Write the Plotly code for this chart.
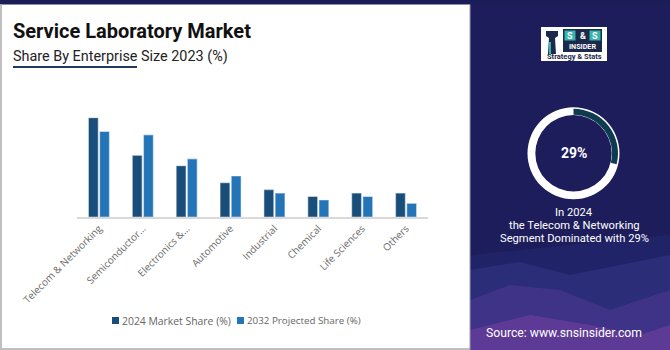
import plotly.graph_objects as go

categories = ["Telecom & Networking", "Semiconductor…", "Electronics &…", "Automotive",
              "Industrial", "Chemical", "Life Sciences", "Others"]
share_2024 = [29, 18, 15, 10, 8, 6, 7, 7]
share_2032 = [25, 24, 17, 12, 7, 5, 6, 4]
series_names = ["2024 Market Share (%)", "2032 Projected Share (%)"]
highlight_value = 29

W, H = 670, 350
DARK = "#1a4e7a"
LIGHT = "#2474b8"
NAVY = "#1e1d5b"
LOGO_NAVY = "#1b2a4a"
TEAL = "#35b5ac"


def px(x):
    return x / W


def py(y):
    return 1 - y / H


fig = go.Figure()
fig.add_trace(go.Bar(x=categories, y=share_2024, name=series_names[0],
                     marker=dict(color=DARK, line=dict(color="rgba(255,255,255,0.45)", width=1.2))))
fig.add_trace(go.Bar(x=categories, y=share_2032, name=series_names[1],
                     marker=dict(color=LIGHT, line=dict(color="rgba(255,255,255,0.45)", width=1.2))))

# donut
cx, cy = 573.5, 153.3
r1 = 46
fig.add_trace(go.Pie(values=[100], marker=dict(colors=["white"]), hole=0.83,
                     domain=dict(x=[px(cx - r1), px(cx + r1)], y=[py(cy + r1), py(cy - r1)]),
                     textinfo="none", hoverinfo="skip", showlegend=False, sort=False))
r2 = 44.5
fig.add_trace(go.Pie(values=[highlight_value, 100 - highlight_value],
                     marker=dict(colors=["#0d3b50", "rgba(0,0,0,0)"], line=dict(width=0)),
                     hole=0.865, direction="clockwise", rotation=0, sort=False,
                     domain=dict(x=[px(cx - r2), px(cx + r2)], y=[py(cy + r2), py(cy - r2)]),
                     textinfo="none", hoverinfo="skip", showlegend=False))

shapes = []
# right panel
shapes.append(dict(type="rect", xref="paper", yref="paper", x0=px(470), x1=1, y0=0, y1=1,
                   fillcolor=NAVY, line=dict(width=0), layer="below"))


def path(points):
    return "M " + " L ".join(f"{px(x):.5f},{py(y):.5f}" for x, y in points) + " Z"


# decorative waves
waves = [
    ([(470, 255), (670, 235), (670, 350), (470, 350)], "rgba(40,50,130,0.35)"),
    ([(470, 270), (520, 262), (570, 275), (620, 265), (670, 255), (670, 350), (470, 350)], "rgba(70,70,160,0.30)"),
    ([(470, 300), (510, 285), (560, 290), (610, 310), (670, 290), (670, 350), (470, 350)], "rgba(120,70,180,0.25)"),
    ([(470, 330), (530, 315), (590, 325), (640, 335), (670, 325), (670, 350), (470, 350)], "rgba(170,80,190,0.28)"),
]
for pts, col in waves:
    shapes.append(dict(type="path", xref="paper", yref="paper", path=path(pts),
                       fillcolor=col, line=dict(width=0), layer="below"))

# top strip
shapes.append(dict(type="rect", xref="paper", yref="paper", x0=0, x1=1, y0=py(4.5), y1=1,
                   fillcolor="#1b1d58", line=dict(width=0)))
# borders of white panel
shapes.append(dict(type="line", xref="paper", yref="paper", x0=px(1), x1=px(1), y0=py(349), y1=py(4.5),
                   line=dict(color="#bfbfbf", width=2)))
shapes.append(dict(type="line", xref="paper", yref="paper", x0=0, x1=px(470), y0=py(349), y1=py(349),
                   line=dict(color="#bfbfbf", width=2)))
shapes.append(dict(type="line", xref="paper", yref="paper", x0=px(470), x1=px(470), y0=0, y1=py(4.5),
                   line=dict(color="#9a9ab8", width=1)))
# title underline
shapes.append(dict(type="line", xref="paper", yref="paper", x0=px(13), x1=px(137), y0=py(67), y1=py(67),
                   line=dict(color="#1f3b5a", width=2)))
# legend squares
shapes.append(dict(type="rect", xref="paper", yref="paper", x0=px(112), x1=px(119), y0=py(324), y1=py(317),
                   fillcolor=DARK, line=dict(width=0)))
shapes.append(dict(type="rect", xref="paper", yref="paper", x0=px(237), x1=px(244), y0=py(324), y1=py(317),
                   fillcolor=LIGHT, line=dict(width=0)))
# logo
shapes.append(dict(type="rect", xref="paper", yref="paper", x0=px(541), x1=px(607), y0=py(61), y1=py(27),
                   fillcolor="white", line=dict(width=0)))
shapes.append(dict(type="path", xref="paper", yref="paper",
                   path=path([(548, 54), (549, 38), (546, 36), (546, 31), (558, 31), (558, 36), (555, 38), (556, 54)]),
                   fillcolor=LOGO_NAVY, line=dict(width=0)))
shapes.append(dict(type="rect", xref="paper", yref="paper", x0=px(549), x1=px(551), y0=py(54), y1=py(42),
                   fillcolor=TEAL, line=dict(width=0)))
shapes.append(dict(type="rect", xref="paper", yref="paper", x0=px(563), x1=px(602), y0=py(52), y1=py(29),
                   fillcolor=LOGO_NAVY, line=dict(width=0)))
for x0 in (564.5, 589.5):
    shapes.append(dict(type="rect", xref="paper", yref="paper", x0=px(x0), x1=px(x0 + 11), y0=py(40.5), y1=py(30.5),
                       fillcolor=TEAL, line=dict(width=0)))

annotations = []


def ann(x, y, text, size, color, family="Roboto", bold=False, xanchor="left", yanchor="middle"):
    annotations.append(dict(x=px(x), y=py(y), xref="paper", yref="paper", text=f"<b>{text}</b>" if bold else text,
                            showarrow=False, xanchor=xanchor, yanchor=yanchor,
                            font=dict(size=size, color=color, family=family)))


ann(11, 30.5, "Service Laboratory Market", 20, "#111111", bold=True)
ann(11, 56, "Share By Enterprise Size 2023 (%)", 14.4, "#222222")
ann(120, 320.5, series_names[0], 10.4, "#666666", family="Open Sans")
ann(245, 320.5, series_names[1], 9.8, "#666666", family="Open Sans")
ann(cx, cy, f"{highlight_value}%", 14, "white", bold=True, xanchor="center")
ann(574, 212, "In 2024", 11.2, "white", xanchor="center")
ann(574, 225, "the Telecom & Networking", 11.2, "white", xanchor="center")
ann(574, 238, "Segment Dominated with 29%", 11.2, "white", xanchor="center")
ann(564, 333, "Source: www.snsinsider.com", 12.2, "white", xanchor="center")
# logo text
ann(570, 35.8, "S", 9, "white", bold=True, xanchor="center")
ann(582.5, 35.8, "&", 9, "white", bold=True, xanchor="center")
ann(595, 35.8, "S", 9, "white", bold=True, xanchor="center")
ann(582.5, 46.5, "INSIDER", 7.2, "white", bold=True, xanchor="center")
ann(574, 57, "Strategy & Stats", 7.5, LOGO_NAVY, bold=True, xanchor="center")

fig.update_layout(
    width=W, height=H, margin=dict(l=0, r=0, t=0, b=0, autoexpand=False),
    paper_bgcolor="white", plot_bgcolor="white",
    barmode="group", bargap=0.49, bargroupgap=0.12,
    showlegend=False,
    xaxis=dict(domain=[px(77), px(428)], showline=True, linecolor="#d9d9d9", linewidth=1.5,
               tickangle=-45, tickfont=dict(family="Open Sans", size=10, color="#6b6b6b"),
               ticks="", showgrid=False, fixedrange=True, automargin=False),
    yaxis=dict(domain=[py(217), py(217 - 30 * 3.424)], range=[0, 30], visible=False,
               showgrid=False, fixedrange=True, automargin=False),
    shapes=shapes, annotations=annotations,
)

fig.write_html("out.html")
